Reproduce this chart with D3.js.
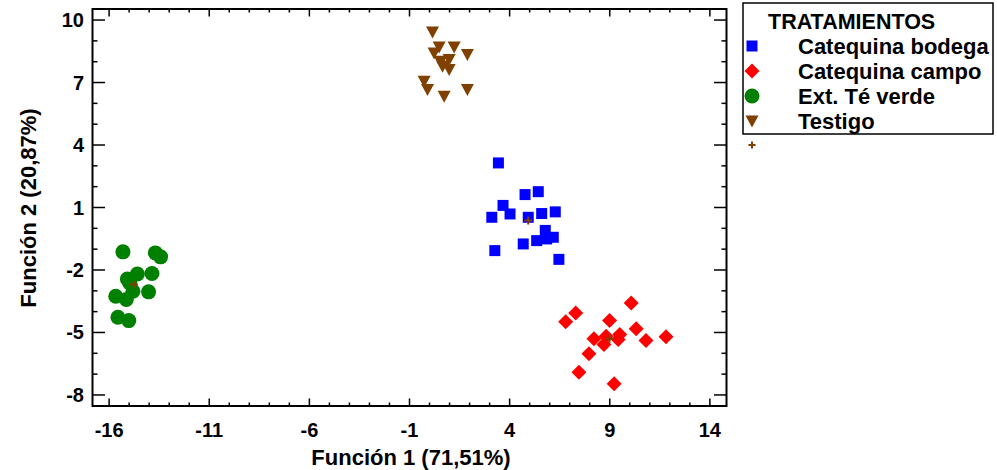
<!DOCTYPE html>
<html>
<head>
<meta charset="utf-8">
<script src="https://cdn.jsdelivr.net/npm/d3@7"></script>
<style>
  html, body { margin: 0; padding: 0; background: #fff; }
  svg { display: block; font-family: "Liberation Sans", Arial, sans-serif; font-weight: bold; }
</style>
</head>
<body>
<svg id="chart" width="997" height="470"></svg>
<script>
// Discriminant scores per treatment: [Función 1, Función 2]
const catequinaBodega = [
  [3.44, 3.14], [4.77, 1.62], [5.43, 1.76], [3.67, 1.10], [3.11, 0.53],
  [4.02, 0.69], [4.93, 0.53], [5.60, 0.71], [6.28, 0.79], [5.78, -0.10],
  [6.18, -0.43], [5.35, -0.59], [4.68, -0.75], [3.26, -1.07], [6.46, -1.49],
  [5.85, -0.51]
];
const catequinaCampo = [
  [10.07, -3.58], [7.30, -4.06], [6.80, -4.49], [8.99, -4.42], [10.32, -4.82],
  [8.21, -5.30], [8.82, -5.18], [9.50, -5.10], [9.42, -5.34], [8.71, -5.58],
  [10.81, -5.38], [11.81, -5.21], [7.96, -6.02], [7.46, -6.91], [9.22, -7.46]
];
const extTeVerde = [
  [-15.31, -1.13], [-13.69, -1.18], [-13.43, -1.37], [-15.09, -2.43], [-14.59, -2.19],
  [-13.86, -2.17], [-15.67, -3.26], [-15.14, -3.42], [-14.81, -3.02], [-14.03, -3.05],
  [-15.56, -4.27], [-15.02, -4.43], [-14.97, -2.62]
];
const testigo = [
  [0.15, 9.43], [0.48, 8.71], [1.23, 8.71], [1.89, 8.34], [0.23, 8.42],
  [0.98, 8.10], [0.65, 7.78], [0.98, 7.62], [-0.27, 7.06], [-0.10, 6.66],
  [0.73, 6.34], [1.89, 6.66], [0.53, 8.02]
];
// Group centroids
const centroids = [[4.93, 0.37], [8.99, -5.30], [-14.76, -2.70], [0.73, 7.94]];

const seriesNames = ["Catequina bodega", "Catequina campo", "Ext. Té verde", "Testigo"];
const legendTitle = "TRATAMIENTOS";
const xTicks = [-16, -11, -6, -1, 4, 9, 14];
const yTicks = [-8, -5, -2, 1, 4, 7, 10];
const xTitle = "Función 1 (71,51%)";
const yTitle = "Función 2 (20,87%)";

const colors = ["#0000ff", "#ff0000", "#008000", "#804000"];
const shapes = ["square", "diamond", "circle", "triangle"];
const seriesData = [catequinaBodega, catequinaCampo, extTeVerde, testigo];

const svg = d3.select("#chart");
const plot = { left: 92.5, right: 726.5, top: 9, bottom: 406 };

const x = d3.scaleLinear().domain([-16.83, 14.83]).range([plot.left, plot.right]);
const y = d3.scaleLinear().domain([-8.53, 10.53]).range([plot.bottom, plot.top]);

function symbolPath(shape) {
  switch (shape) {
    case "square": return "M-5.5,-5.5H5.5V5.5H-5.5Z";
    case "diamond": return "M0,-7.5L7.5,0L0,7.5L-7.5,0Z";
    case "triangle": return "M-6.5,-5.5H6.5L0,6.5Z";
    default: return d3.symbol(d3.symbolCircle, Math.PI * 7.5 * 7.5)();
  }
}

// Frame
svg.append("rect")
  .attr("x", plot.left).attr("y", plot.top)
  .attr("width", plot.right - plot.left).attr("height", plot.bottom - plot.top)
  .attr("fill", "none").attr("stroke", "#000").attr("stroke-width", 2);

// Inward tick marks on all four sides
const xMinor = d3.range(-16, 15, 1);
const yMinor = d3.range(-8, 11, 1);
const ticksG = svg.append("g").attr("stroke", "#000").attr("stroke-width", 1.5);
xMinor.forEach(v => {
  const len = xTicks.includes(v) ? 7.5 : 3.5;
  ticksG.append("line").attr("x1", x(v)).attr("x2", x(v)).attr("y1", plot.bottom).attr("y2", plot.bottom - len);
  ticksG.append("line").attr("x1", x(v)).attr("x2", x(v)).attr("y1", plot.top).attr("y2", plot.top + len);
});
yMinor.forEach(v => {
  const len = yTicks.includes(v) ? 12.5 : 5;
  ticksG.append("line").attr("y1", y(v)).attr("y2", y(v)).attr("x1", plot.left).attr("x2", plot.left + len);
  ticksG.append("line").attr("y1", y(v)).attr("y2", y(v)).attr("x1", plot.right).attr("x2", plot.right - len);
});

// Tick labels
svg.append("g").selectAll("text").data(xTicks).join("text")
  .attr("x", d => x(d)).attr("y", 437)
  .attr("text-anchor", "middle").attr("font-size", 20)
  .text(d => d);
svg.append("g").selectAll("text").data(yTicks).join("text")
  .attr("x", 84).attr("y", d => y(d) + 7)
  .attr("text-anchor", "end").attr("font-size", 20)
  .text(d => d);

// Axis titles
svg.append("text").attr("x", 411).attr("y", 465)
  .attr("text-anchor", "middle").attr("font-size", 22).text(xTitle);
svg.append("text").attr("transform", "translate(36,208) rotate(-90)")
  .attr("text-anchor", "middle").attr("font-size", 22).text(yTitle);

// Points
seriesData.forEach((data, i) => {
  svg.append("g").selectAll("path").data(data).join("path")
    .attr("transform", d => `translate(${x(d[0])},${y(d[1])})`)
    .attr("d", symbolPath(shapes[i]))
    .attr("fill", colors[i]);
});

// Centroid markers
const plusPath = "M-4,0H4M0,-4V4";
svg.append("g").selectAll("path").data(centroids).join("path")
  .attr("transform", d => `translate(${x(d[0])},${y(d[1])})`)
  .attr("d", plusPath)
  .attr("stroke", colors[3]).attr("stroke-width", 2).attr("fill", "none");

// Legend
const lg = svg.append("g");
lg.append("rect").attr("x", 743).attr("y", 3).attr("width", 250).attr("height", 131)
  .attr("fill", "#fff").attr("stroke", "#000").attr("stroke-width", 1.5);
lg.append("text").attr("x", 768).attr("y", 29).attr("font-size", 21.5).text(legendTitle);
seriesNames.forEach((name, i) => {
  const cy = 46 + i * 25;
  lg.append("path").attr("transform", `translate(752,${cy})`)
    .attr("d", symbolPath(shapes[i])).attr("fill", colors[i]);
  lg.append("text").attr("x", 798).attr("y", cy + 8).attr("font-size", 22).text(name);
});
lg.append("path").attr("transform", "translate(752,145)")
  .attr("d", "M-3.5,0H3.5M0,-3.5V3.5")
  .attr("stroke", colors[3]).attr("stroke-width", 2).attr("fill", "none");
</script>
</body>
</html>
